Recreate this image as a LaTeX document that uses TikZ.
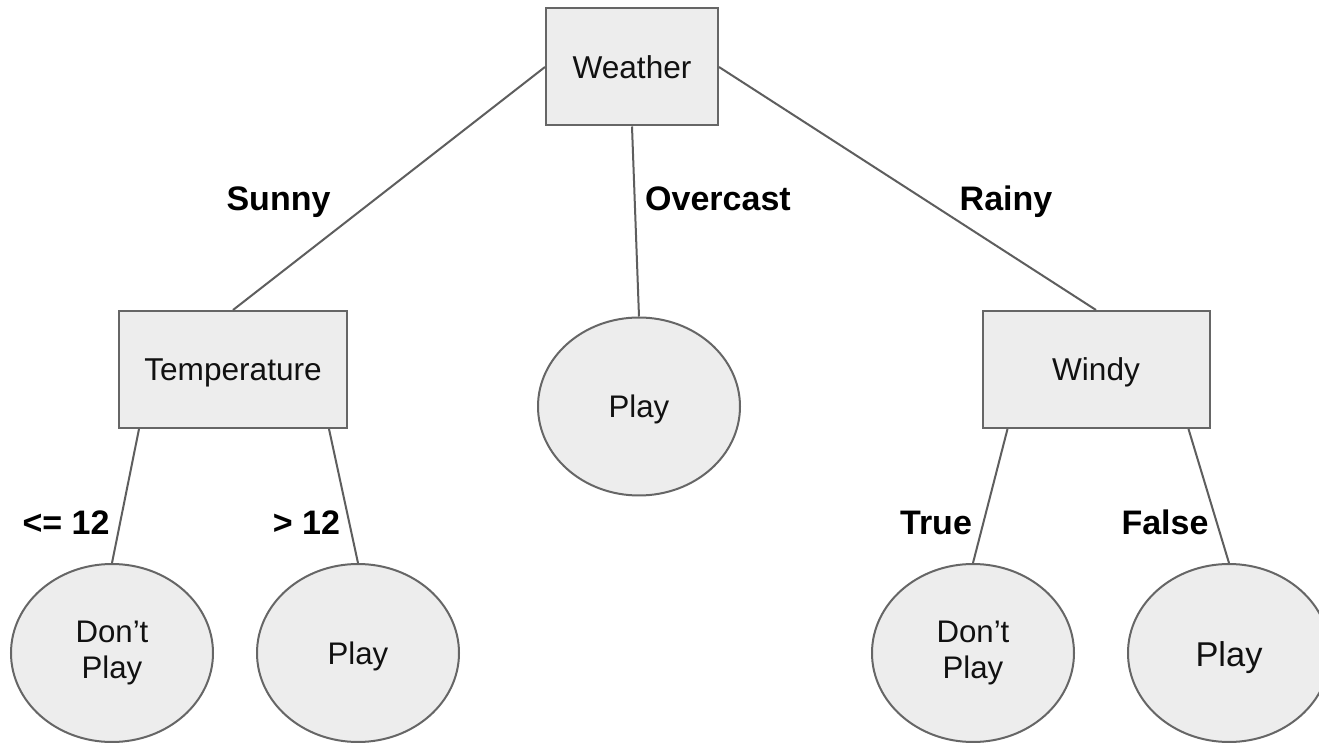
\documentclass[tikz,border=0pt]{standalone}
\usepackage{fontspec}
\setmainfont{Liberation Sans}
\usetikzlibrary{shapes.geometric}
\definecolor{nodefill}{HTML}{EDEDED}
\definecolor{nodeline}{HTML}{666666}
\definecolor{edgeline}{HTML}{5E5E5E}
\definecolor{txt}{HTML}{111111}

\begin{document}
\begin{tikzpicture}[x=0.5pt,y=-0.5pt,
  decision/.style={draw=nodeline, fill=nodefill, line width=1pt, inner sep=0pt,
    minimum height=58.5pt, text=txt,
    font=\fontsize{15.8}{18}\selectfont, text height=11.3pt, text depth=0pt},
  leaf/.style={draw=nodeline, fill=nodefill, ellipse, line width=1pt, inner sep=0pt,
    minimum width=101pt, minimum height=89pt, text=txt, align=center,
    font=\fontsize{15.6}{18}\selectfont},
  oneline/.style={text height=11pt, text depth=0pt},
  branch/.style={draw=edgeline, line width=1pt},
  cond/.style={anchor=base, inner sep=0pt, text=black,
    font=\bfseries\fontsize{17}{20}\selectfont}]

\clip (0,0) rectangle (1319,743);
\fill[white] (0,0) rectangle (1319,743);

% decision nodes
\node[decision, minimum width=86pt]    (weather) at (632,67)     {Weather};
\node[decision, minimum width=114pt]   (temp)    at (233,369.5)  {Temperature};
\node[decision, minimum width=113.5pt] (windy)   at (1096,369.5) {Windy};

% leaves
\node[leaf, oneline] (overcastplay) at (639,406.5) {Play};
\node[leaf] (coldno)   at (112,653)  {Don’t\\Play};
\node[leaf, oneline] (warmplay) at (358,653)  {Play};
\node[leaf] (windno)   at (973,653)  {Don’t\\Play};
\node[leaf, oneline, font=\fontsize{17.2}{20}\selectfont, text height=14pt]
  (calmplay) at (1229,653) {Play};

% branches
\draw[branch] (weather.west) -- (temp.north);
\draw[branch] (weather.south) -- (overcastplay.north);
\draw[branch] (weather.east) -- (windy.north);
\draw[branch] ([xshift=10.5pt]temp.south west) -- (coldno.north);
\draw[branch] ([xshift=-9.5pt]temp.south east) -- (warmplay.north);
\draw[branch] ([xshift=13pt]windy.south west) -- (windno.north);
\draw[branch] ([xshift=-11pt]windy.south east) -- (calmplay.north);

% branch conditions
\node[cond] (lsunny)    at (278.5,211) {Sunny};
\node[cond] (lovercast) at (718,211)   {Overcast};
\node[cond] (lrainy)    at (1006,211)  {Rainy};
\node[cond] (lle)       at (66,535)    {<= 12};
\node[cond] (lgt)       at (306.5,535) {> 12};
\node[cond] (ltrue)     at (936,535)   {True};
\node[cond] (lfalse)    at (1165,535)  {False};
\end{tikzpicture}
\end{document}
